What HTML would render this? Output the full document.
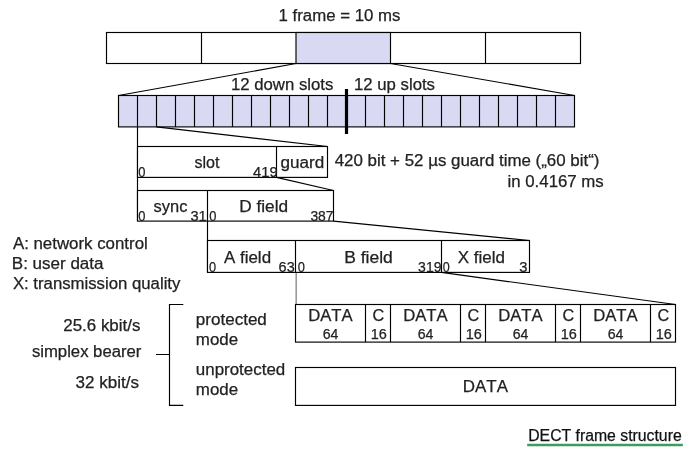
<!DOCTYPE html>
<html><head><meta charset="utf-8">
<style>
html,body{margin:0;padding:0;background:#fff;}
body{width:695px;height:450px;overflow:hidden;}
svg{display:block;will-change:transform;}
text{font-family:"Liberation Sans",sans-serif;fill:#222;stroke:#222;stroke-width:.25px;font-kerning:none;}
.t{font-size:16px;}
.s{font-size:15.5px;}
.c{font-size:16px;fill:#111;stroke:#111;}
.l{stroke:#000;stroke-width:1.15;fill:none;}
.b{stroke:#000;stroke-width:1.15;fill:#fff;}
.f{stroke:#000;stroke-width:1.15;fill:#d9d9f3;}
</style></head><body>
<svg width="695" height="450" viewBox="0 0 695 450">
<rect width="695" height="450" fill="#fff"/>
<!-- frame row -->
<rect class="b" x="106.5" y="32.5" width="474" height="31"/>
<rect class="f" x="296" y="32.5" width="94.5" height="31"/>
<path class="l" d="M201.5 32.5V63.5M485.5 32.5V63.5"/>
<path class="l" d="M296 63.5L118.5 95.5M390.5 63.5L574.5 95.5"/>
<!-- slots row -->
<rect class="f" x="118.5" y="95.5" width="456" height="31.4"/>
<path class="l" d="M137.5 95.5V126.9M156.5 95.5V126.9M175.5 95.5V126.9M194.5 95.5V126.9M213.5 95.5V126.9M232.5 95.5V126.9M251.5 95.5V126.9M270.5 95.5V126.9M289.5 95.5V126.9M308.5 95.5V126.9M327.5 95.5V126.9M346.5 95.5V126.9M365.5 95.5V126.9M384.5 95.5V126.9M403.5 95.5V126.9M422.5 95.5V126.9M441.5 95.5V126.9M460.5 95.5V126.9M479.5 95.5V126.9M498.5 95.5V126.9M517.5 95.5V126.9M536.5 95.5V126.9M555.5 95.5V126.9"/>
<path d="M346.5 89V134" stroke="#000" stroke-width="3.2" fill="none"/>
<!-- slot/guard -->
<path class="l" d="M137.5 126.9V221M156.5 126.9L327.5 146.5"/>
<rect class="b" x="137.5" y="146.5" width="190" height="30.9"/>
<path class="l" d="M276.5 146.5V177.4"/>
<!-- sync/D -->
<path class="l" d="M276.5 177.4L333.5 190.5"/>
<rect class="b" x="137.5" y="190.5" width="196" height="30.6"/>
<path class="l" d="M207.5 190.5V272.4"/>
<!-- A B X -->
<path class="l" d="M333.5 221.1L529.5 240.5"/>
<rect class="b" x="207.5" y="240.5" width="322" height="31.9"/>
<path class="l" d="M295.5 240.5V272.4M441.5 240.5V272.4"/>
<!-- connectors -->
<path d="M296.2 273V304" stroke="#999" stroke-width="1.6" fill="none"/>
<path class="l" d="M441.5 272.4L675.5 304.5"/>
<!-- data row -->
<rect class="b" x="295.5" y="304.5" width="380" height="37.6"/>
<path class="l" d="M365.5 304.5V342.1M390.5 304.5V342.1M460.5 304.5V342.1M485.5 304.5V342.1M555.5 304.5V342.1M580.5 304.5V342.1M650.5 304.5V342.1"/>
<rect class="b" x="295.5" y="367.5" width="380" height="37.9"/>
<!-- bracket -->
<path class="l" d="M183.3 304.5H169.5V405.4H183.3M156 354.5H169.5"/>
<!-- caption underline -->
<path d="M527.2 445H682.8" stroke="#3d9c5f" stroke-width="2.3"/>
<text class="t" x="278.55" y="21.0" textLength="121.85" lengthAdjust="spacingAndGlyphs">1 frame = 10 ms</text>
<text class="t" x="230.95" y="89.5" textLength="102.45" lengthAdjust="spacingAndGlyphs">12 down slots</text>
<text class="t" x="353.95" y="89.5" textLength="81.05" lengthAdjust="spacingAndGlyphs">12 up slots</text>
<text class="t" x="194.40" y="167.8" textLength="25.04" lengthAdjust="spacingAndGlyphs">slot</text>
<text class="t" x="280.50" y="167.8" textLength="43.66" lengthAdjust="spacingAndGlyphs">guard</text>
<text class="t" x="334.70" y="165.8" textLength="264.75" lengthAdjust="spacingAndGlyphs">420 bit + 52 µs guard time („60 bit“)</text>
<text class="t" x="507.55" y="186.8" textLength="96.15" lengthAdjust="spacingAndGlyphs">in 0.4167 ms</text>
<text class="t" x="153.60" y="211.6" textLength="33.80" lengthAdjust="spacingAndGlyphs">sync</text>
<text class="t" x="239.22" y="211.6" textLength="48.84" lengthAdjust="spacingAndGlyphs">D field</text>
<text class="t" x="224.00" y="262.8" textLength="47.05" lengthAdjust="spacingAndGlyphs">A field</text>
<text class="t" x="344.21" y="262.8" textLength="48.57" lengthAdjust="spacingAndGlyphs">B field</text>
<text class="t" x="457.80" y="262.8" textLength="47.15" lengthAdjust="spacingAndGlyphs">X field</text>
<text class="t" x="12.90" y="248.7" textLength="134.88" lengthAdjust="spacingAndGlyphs">A: network control</text>
<text class="t" x="11.84" y="269.0" textLength="91.65" lengthAdjust="spacingAndGlyphs">B: user data</text>
<text class="t" x="12.90" y="288.5" textLength="167.50" lengthAdjust="spacingAndGlyphs">X: transmission quality</text>
<text class="t" x="63.30" y="331.0" textLength="77.10" lengthAdjust="spacingAndGlyphs">25.6 kbit/s</text>
<text class="t" x="31.90" y="356.5" textLength="109.50" lengthAdjust="spacingAndGlyphs">simplex bearer</text>
<text class="t" x="75.60" y="387.9" textLength="63.30" lengthAdjust="spacingAndGlyphs">32 kbit/s</text>
<text class="t" x="195.84" y="325.1" textLength="71.02" lengthAdjust="spacingAndGlyphs">protected</text>
<text class="t" x="195.84" y="344.8" textLength="42.25" lengthAdjust="spacingAndGlyphs">mode</text>
<text class="t" x="195.84" y="374.9" textLength="89.41" lengthAdjust="spacingAndGlyphs">unprotected</text>
<text class="t" x="195.84" y="394.7" textLength="42.25" lengthAdjust="spacingAndGlyphs">mode</text>
<text class="t" x="462.84" y="392.3" textLength="45.11" lengthAdjust="spacingAndGlyphs">DATA</text>
<text class="s" x="138.20" y="177.2" textLength="7.18" lengthAdjust="spacingAndGlyphs">0</text>
<text class="s" x="253.00" y="177.2" textLength="24.69" lengthAdjust="spacingAndGlyphs">419</text>
<text class="s" x="138.20" y="221.4" textLength="7.18" lengthAdjust="spacingAndGlyphs">0</text>
<text class="s" x="190.40" y="221.4" textLength="16.29" lengthAdjust="spacingAndGlyphs">31</text>
<text class="s" x="209.20" y="221.4" textLength="7.18" lengthAdjust="spacingAndGlyphs">0</text>
<text class="s" x="310.40" y="221.4" textLength="23.16" lengthAdjust="spacingAndGlyphs">387</text>
<text class="s" x="209.10" y="271.7" textLength="7.09" lengthAdjust="spacingAndGlyphs">0</text>
<text class="s" x="278.60" y="271.7" textLength="16.08" lengthAdjust="spacingAndGlyphs">63</text>
<text class="s" x="297.70" y="271.7" textLength="7.18" lengthAdjust="spacingAndGlyphs">0</text>
<text class="s" x="418.10" y="271.7" textLength="23.36" lengthAdjust="spacingAndGlyphs">319</text>
<text class="s" x="442.70" y="271.7" textLength="6.99" lengthAdjust="spacingAndGlyphs">0</text>
<text class="s" x="519.30" y="271.7" textLength="8.19" lengthAdjust="spacingAndGlyphs">3</text>
<text class="t" x="308.16" y="321.3" textLength="44.50" lengthAdjust="spacingAndGlyphs">DATA</text>
<text class="s" x="322.80" y="339.4" textLength="15.66" lengthAdjust="spacingAndGlyphs">64</text>
<text class="t" x="372.60" y="321.3" textLength="11.76" lengthAdjust="spacingAndGlyphs">C</text>
<text class="s" x="370.77" y="339.4" textLength="16.11" lengthAdjust="spacingAndGlyphs">16</text>
<text class="t" x="403.16" y="321.3" textLength="44.50" lengthAdjust="spacingAndGlyphs">DATA</text>
<text class="s" x="417.80" y="339.4" textLength="15.66" lengthAdjust="spacingAndGlyphs">64</text>
<text class="t" x="467.60" y="321.3" textLength="11.76" lengthAdjust="spacingAndGlyphs">C</text>
<text class="s" x="465.77" y="339.4" textLength="16.11" lengthAdjust="spacingAndGlyphs">16</text>
<text class="t" x="498.16" y="321.3" textLength="44.50" lengthAdjust="spacingAndGlyphs">DATA</text>
<text class="s" x="512.80" y="339.4" textLength="15.66" lengthAdjust="spacingAndGlyphs">64</text>
<text class="t" x="562.60" y="321.3" textLength="11.76" lengthAdjust="spacingAndGlyphs">C</text>
<text class="s" x="560.77" y="339.4" textLength="16.11" lengthAdjust="spacingAndGlyphs">16</text>
<text class="t" x="593.16" y="321.3" textLength="44.50" lengthAdjust="spacingAndGlyphs">DATA</text>
<text class="s" x="607.80" y="339.4" textLength="15.66" lengthAdjust="spacingAndGlyphs">64</text>
<text class="t" x="657.60" y="321.3" textLength="11.76" lengthAdjust="spacingAndGlyphs">C</text>
<text class="s" x="655.77" y="339.4" textLength="16.11" lengthAdjust="spacingAndGlyphs">16</text>
<text class="c" x="528.21" y="440.9" textLength="153.49" lengthAdjust="spacingAndGlyphs">DECT frame structure</text>
</svg>
</body></html>
